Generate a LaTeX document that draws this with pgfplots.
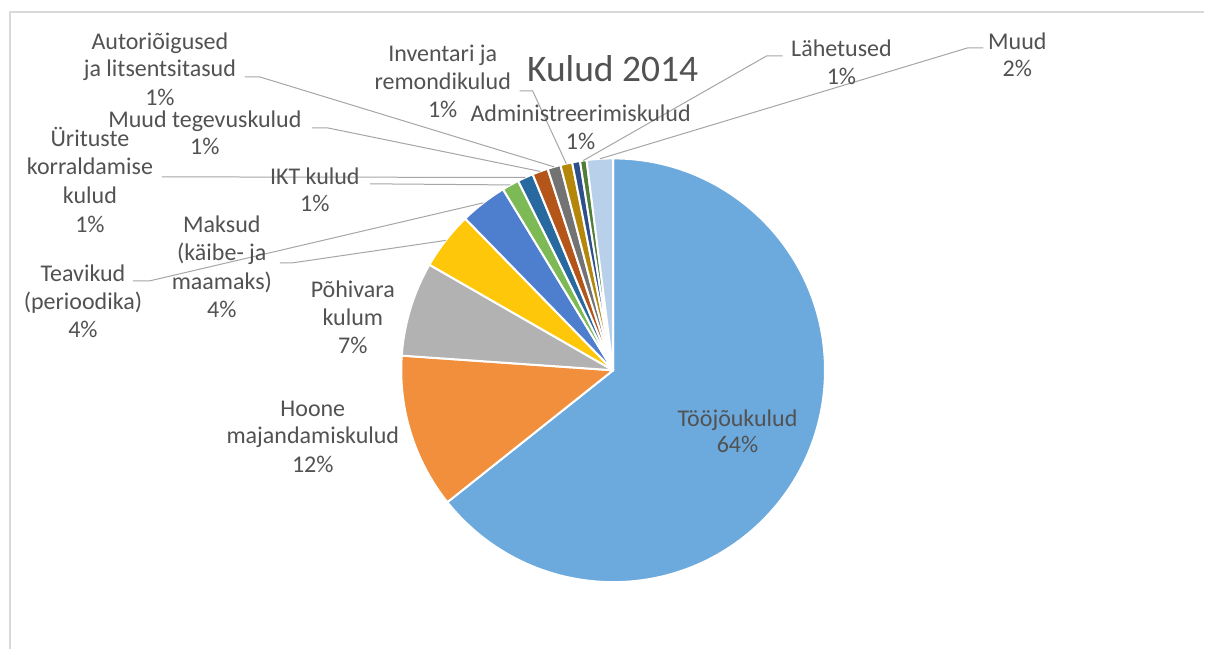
\documentclass[border=0pt]{standalone}
\usepackage{pgfplots}
\pgfplotsset{compat=1.18}
\usepackage{pgfplotstable}
\usepackage{fontspec}
\setmainfont{Carlito}
\definecolor{c1}{RGB}{108,169,221}
\definecolor{c2}{RGB}{241,143,61}
\definecolor{c3}{RGB}{178,178,178}
\definecolor{c4}{RGB}{255,199,10}
\definecolor{c5}{RGB}{78,126,206}
\definecolor{c6}{RGB}{125,186,85}
\definecolor{c7}{RGB}{40,105,160}
\definecolor{c8}{RGB}{180,85,25}
\definecolor{c9}{RGB}{115,115,115}
\definecolor{c10}{RGB}{180,135,10}
\definecolor{c11}{RGB}{45,80,140}
\definecolor{c12}{RGB}{80,125,55}
\definecolor{c13}{RGB}{185,208,235}
\definecolor{txt}{RGB}{82,82,82}
\definecolor{lead}{RGB}{166,166,166}
\definecolor{frame}{RGB}{217,217,217}
\tikzset{lbl/.style={font=\fontsize{24bp}{28.5bp}\selectfont, text=txt, anchor=base, inner sep=0pt}}
% value, colour, leader start (sx,sy) and knee (kx,ky); sx=-1: no leader
\pgfplotstableread{
value color sx sy kx ky
64.3 c1 -1 0 0 0
11.8 c2 -1 0 0 0
7.2 c3 -1 0 0 0
4.4 c4 280 263 293 263
3.6 c5 133 281 150 281
1.3 c6 370 184 378 184
1.2 c7 162 177 170 177
1.2 c8 312 128 328 128
1.0 c9 245 77 260 77
0.9 c10 520 91 533 91
0.6 c11 -1 0 0 0
0.5 c12 783 56 767 56
2.0 c13 984 48 968 48
}\piedata
\begin{document}
\begin{tikzpicture}
\begin{axis}[x=1bp, y=1bp, xmin=0, xmax=1205, ymin=0, ymax=649, y dir=reverse,
  hide axis, clip=false]
\fill[white] (axis cs:0,0) rectangle (axis cs:1205,649);
\draw[frame, line width=1.5bp] (axis cs:10,649) -- (axis cs:10,12) -- (axis cs:1205,12);
\pgfplotstablegetrowsof{\piedata}
\pgfmathtruncatemacro\N{\pgfplotsretval-1}
\def\cum{0}
\pgfplotsforeachungrouped \i in {0,...,\N}{%
  \pgfplotstablegetelem{\i}{value}\of{\piedata}\let\v\pgfplotsretval
  \pgfplotstablegetelem{\i}{color}\of{\piedata}\let\c\pgfplotsretval
  \pgfmathsetmacro\s{90-3.6*\cum}%
  \pgfmathsetmacro\cum{\cum+\v}%
  \pgfmathsetmacro\e{90-3.6*\cum}%
  \edef\temp{\noexpand\fill[fill=\c,draw=white,line width=2bp,line join=round] (axis cs:613.5,370.5) -- ++(\s:212bp) arc[start angle=\s,end angle=\e,radius=212bp] -- cycle;}%
  \temp
}
\def\cum{0}
\pgfplotsforeachungrouped \i in {0,...,\N}{%
  \pgfplotstablegetelem{\i}{value}\of{\piedata}\let\v\pgfplotsretval
  \pgfplotstablegetelem{\i}{sx}\of{\piedata}\let\sx\pgfplotsretval
  \pgfplotstablegetelem{\i}{sy}\of{\piedata}\let\sy\pgfplotsretval
  \pgfplotstablegetelem{\i}{kx}\of{\piedata}\let\kx\pgfplotsretval
  \pgfplotstablegetelem{\i}{ky}\of{\piedata}\let\ky\pgfplotsretval
  \pgfmathsetmacro\m{90-3.6*(\cum+\v/2)}%
  \pgfmathsetmacro\cum{\cum+\v}%
  \ifdim\sx pt>0pt
    \edef\temp{\noexpand\draw[lead,line width=1bp] (axis cs:613.5,370.5) ++(\m:212bp) -- (axis cs:\kx,\ky) -- (axis cs:\sx,\sy);}%
    \temp
  \fi
}
\node[font=\fontsize{37.5bp}{44bp}\selectfont, text=txt, anchor=base, inner sep=0pt] at (axis cs:613,82) {Kulud 2014};
\node[lbl] at (axis cs:160,50) {Autoriõigused};
\node[lbl] at (axis cs:160,77) {ja litsentsitasud};
\node[lbl] at (axis cs:160,106) {1\%};
\node[lbl] at (axis cs:205,128) {Muud tegevuskulud};
\node[lbl] at (axis cs:205,155) {1\%};
\node[lbl] at (axis cs:90,147) {Ürituste};
\node[lbl] at (axis cs:90,175) {korraldamise};
\node[lbl] at (axis cs:90,204) {kulud};
\node[lbl] at (axis cs:90,233) {1\%};
\node[lbl] at (axis cs:315,185) {IKT kulud};
\node[lbl] at (axis cs:315,212) {1\%};
\node[lbl] at (axis cs:222,233) {Maksud};
\node[lbl] at (axis cs:222,261) {(käibe- ja};
\node[lbl] at (axis cs:222,290) {maamaks)};
\node[lbl] at (axis cs:222,318) {4\%};
\node[lbl] at (axis cs:83,282) {Teavikud};
\node[lbl] at (axis cs:83,310) {(perioodika)};
\node[lbl] at (axis cs:83,338) {4\%};
\node[lbl] at (axis cs:353,298) {Põhivara};
\node[lbl] at (axis cs:353,326) {kulum};
\node[lbl] at (axis cs:353,354) {7\%};
\node[lbl] at (axis cs:313,417) {Hoone};
\node[lbl] at (axis cs:313,444) {majandamiskulud};
\node[lbl] at (axis cs:313,473) {12\%};
\node[lbl] at (axis cs:738,427) {Tööjõukulud};
\node[lbl] at (axis cs:738,453) {64\%};
\node[lbl] at (axis cs:443,62) {Inventari ja};
\node[lbl] at (axis cs:443,90) {remondikulud};
\node[lbl] at (axis cs:443,118) {1\%};
\node[lbl] at (axis cs:581,122) {Administreerimiskulud};
\node[lbl] at (axis cs:581,150) {1\%};
\node[lbl] at (axis cs:842,57) {Lähetused};
\node[lbl] at (axis cs:842,85) {1\%};
\node[lbl] at (axis cs:1018,50) {Muud};
\node[lbl] at (axis cs:1018,77) {2\%};
\end{axis}
\end{tikzpicture}
\end{document}
